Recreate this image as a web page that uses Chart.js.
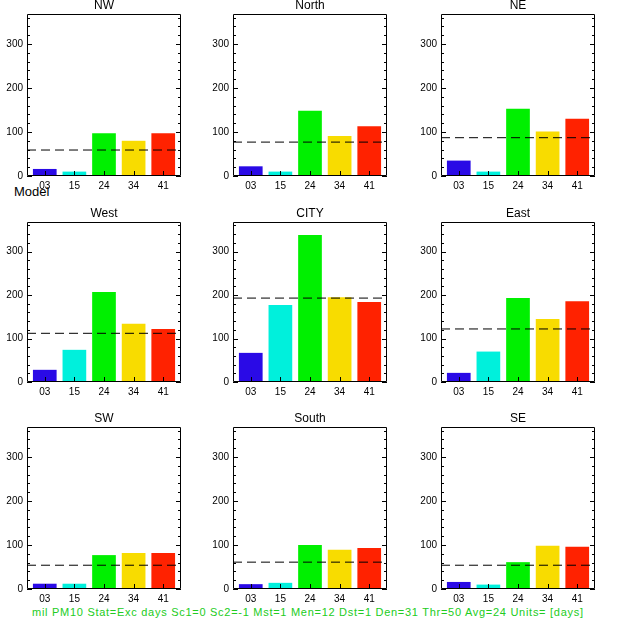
<!DOCTYPE html>
<html>
<head>
<meta charset="utf-8">
<script src="https://cdn.jsdelivr.net/npm/chart.js@4.4.0/dist/chart.umd.min.js"></script>
<style>
  body { margin: 0; background: #fff; width: 620px; height: 620px; position: relative; overflow: hidden;
         font-family: "Liberation Sans", Arial, sans-serif; }
  canvas { position: absolute; }
  #model { position: absolute; left: 14px; top: 184px; font-size: 13px; color: #000; }
  #footer { position: absolute; left: 32px; top: 606px; font-size: 11px; color: #22cc22; white-space: nowrap; }
</style>
</head>
<body>
<div id="model">Model</div>
<div id="footer">mil PM10 Stat=Exc days Sc1=0 Sc2=-1 Mst=1 Men=12 Dst=1 Den=31 Thr=50 Avg=24 Units= [days]</div>
<script>
// categories / data
const models = ['03', '15', '24', '34', '41'];
const regions = ['NW', 'North', 'NE', 'West', 'CITY', 'East', 'SW', 'South', 'SE'];

const nwValues    = [16, 10, 97, 80, 97];
const northValues = [22, 10, 148, 91, 113];
const neValues    = [35, 10, 153, 101, 130];
const westValues  = [28, 74, 207, 134, 122];
const cityValues  = [67, 177, 338, 195, 184];
const eastValues  = [21, 70, 193, 145, 186];
const swValues    = [12, 12, 77, 82, 82];
const southValues = [11, 14, 100, 89, 93];
const seValues    = [16, 10, 61, 98, 96];

// dashed reference line per region
const thresholds = [59, 77, 87, 112, 193, 122, 54, 61, 54];

const yTicks = [0, 100, 200, 300];
const yMax = 368;

const panelValues = [nwValues, northValues, neValues, westValues, cityValues, eastValues, swValues, southValues, seValues];
const barColors = ['#2a0ae6', '#00f0dc', '#00f000', '#f8dc00', '#ff2200'];

// layout (plot area of each panel)
const colLeft = [27, 233, 441];
const rowTop = [14, 222, 427];
const rowHeight = [162, 160, 162];
const plotWidth = 154;
const xMin = -0.6, xMax = 4.6;

const idlFrame = {
    id: 'idlFrame',
    afterDatasetsDraw(chart, args, opts) {
        const { ctx, chartArea: a, scales } = chart;
        ctx.save();
        ctx.strokeStyle = '#000';
        ctx.lineWidth = 1;
        ctx.beginPath();
        ctx.rect(Math.round(a.left) + 0.5, Math.round(a.top) + 0.5,
                 Math.round(a.right - a.left) - 1, Math.round(a.bottom - a.top) - 1);
        // y ticks, major and minor, inward on both sides
        for (let v = 0; v <= yMax; v += 20) {
            const y = Math.round(scales.y.getPixelForValue(v)) + 0.5;
            const len = v % 100 === 0 ? 5 : 3;
            ctx.moveTo(a.left, y); ctx.lineTo(a.left + len, y);
            ctx.moveTo(a.right, y); ctx.lineTo(a.right - len, y);
        }
        // x ticks at category positions
        models.forEach((m, i) => {
            const x = Math.round(scales.x.getPixelForValue(i)) + 0.5;
            ctx.moveTo(x, a.bottom); ctx.lineTo(x, a.bottom - 5);
        });
        ctx.stroke();
        // panel title
        ctx.fillStyle = '#000';
        ctx.font = '12px "Liberation Sans", Arial, sans-serif';
        ctx.textAlign = 'center';
        ctx.textBaseline = 'middle';
        ctx.fillText(opts.title, (a.left + a.right) / 2, a.top - 8);
        ctx.restore();
    }
};

regions.forEach((name, k) => {
    const col = k % 3, row = Math.floor(k / 3);
    const canvas = document.createElement('canvas');
    canvas.width = 27 + plotWidth + 8;
    canvas.height = 14 + rowHeight[row] + 22;
    canvas.style.left = (colLeft[col] - 27) + 'px';
    canvas.style.top = (rowTop[row] - 14) + 'px';
    document.body.appendChild(canvas);

    const values = panelValues[k];
    new Chart(canvas.getContext('2d'), {
        type: 'bar',
        data: {
            datasets: [
                {
                    type: 'line',
                    data: [{ x: xMin, y: thresholds[k] }, { x: xMax, y: thresholds[k] }],
                    borderColor: '#000',
                    borderWidth: 1,
                    borderDash: [9, 5],
                    pointRadius: 0,
                    order: 0
                },
                {
                    type: 'bar',
                    data: values.map((v, i) => ({ x: i, y: v })),
                    backgroundColor: barColors,
                    barPercentage: 0.8,
                    categoryPercentage: 1.0,
                    order: 1
                }
            ]
        },
        options: {
            responsive: false,
            animation: false,
            devicePixelRatio: 1,
            layout: { padding: { left: 0, top: 14, right: 8, bottom: 0 } },
            plugins: {
                legend: { display: false },
                tooltip: { enabled: false },
                idlFrame: { title: name }
            },
            scales: {
                x: {
                    type: 'linear',
                    min: xMin,
                    max: xMax,
                    offset: false,
                    grid: { display: false, drawTicks: false },
                    border: { display: false },
                    afterBuildTicks: s => { s.ticks = models.map((m, i) => ({ value: i })); },
                    afterFit: s => { s.height = 22; },
                    ticks: {
                        autoSkip: false,
                        maxRotation: 0,
                        padding: 4,
                        color: '#000',
                        font: { family: '"Liberation Sans", Arial, sans-serif', size: 10 },
                        callback: v => models[v]
                    }
                },
                y: {
                    min: 0,
                    max: yMax,
                    grid: { display: false, drawTicks: false },
                    border: { display: false },
                    afterBuildTicks: s => { s.ticks = yTicks.map(v => ({ value: v })); },
                    afterFit: s => { s.width = 27; },
                    ticks: {
                        padding: 4,
                        color: '#000',
                        font: { family: '"Liberation Sans", Arial, sans-serif', size: 10 }
                    }
                }
            }
        },
        plugins: [idlFrame]
    });
});

// stretch footer text to the reference width
const footer = document.getElementById('footer');
const txt = footer.textContent;
const w = footer.getBoundingClientRect().width;
footer.style.letterSpacing = ((551 - w) / (txt.length - 1)) + 'px';
</script>
</body>
</html>
